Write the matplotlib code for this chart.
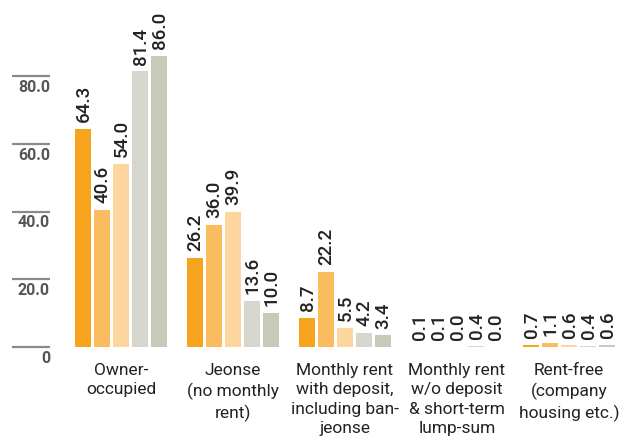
import numpy as np
import matplotlib
matplotlib.use("Agg")
import matplotlib.pyplot as plt

# housing tenure shares (%), five series per category
categories = ["Owner-\noccupied", "Jeonse\n(no monthly\nrent)",
              "Monthly rent\nwith deposit,\nincluding ban-\njeonse",
              "Monthly rent\nw/o deposit\n& short-term\nlump-sum",
              "Rent-free\n(company\nhousing etc.)"]
s1 = [64.3, 26.2, 8.7, 0.1, 0.7]
s2 = [40.6, 36.0, 22.2, 0.1, 1.1]
s3 = [54.0, 39.9, 5.5, 0.0, 0.6]
s4 = [81.4, 13.6, 4.2, 0.4, 0.4]
s5 = [86.0, 10.0, 3.4, 0.0, 0.6]
series = [s1, s2, s3, s4, s5]
colors = ["#F6A31E", "#FBBC5F", "#FDD59E", "#D6D6CE", "#C9C9BA"]
yticks = [0, 20, 40, 60, 80]
ytick_labels = ["0", "20.0", "40.0", "60.0", "80.0"]

font = ["Roboto", "DejaVu Sans"]

W, H = 628, 441
fig = plt.figure(figsize=(W / 100, H / 100), dpi=100)
ax = fig.add_axes([0, 0, 1, 1])

# pixel geometry: group pitch 112px, bar 16px, bar step 19px, 3.385 px per unit
pitch = 112.0
x0 = 121.0
ppu = 67.7 / 20
y0 = 347.0
ax.set_xlim(-x0 / pitch, (W - x0) / pitch)
ax.set_ylim(-(H - y0) / ppu, y0 / ppu)
ax.axis("off")

x = np.arange(len(categories))
step = 19 / pitch
width = 16 / pitch
for j, vals in enumerate(series):
    xs = x + (j - 2) * step
    ax.bar(xs, vals, width=width, color=colors[j], linewidth=0)
    for xi, v in zip(xs, vals):
        ax.annotate(f"{v:.1f}", (xi, v), xytext=(0.5, 5), textcoords="offset points",
                    rotation=90, ha="center", va="bottom", fontsize=13.5,
                    color="#222222", family=font, fontweight="medium")

# y axis tick marks and labels
xl, xr = (12 - x0) / pitch, (50 - x0) / pitch
for t, lab in zip(yticks, ytick_labels):
    ax.plot([xl, xr], [t, t], color="#8a8a8a", lw=1.6, solid_capstyle="butt")
    ax.text(xr, t - 3.3, lab, ha="right", va="center", fontsize=11.5,
            fontweight="bold", color="#555555", family=font)

for xi, c in zip(x, categories):
    ax.text(xi, -4.6, c, ha="center", va="top", fontsize=12.5, color="#222222",
            linespacing=1.38, family=font)

fig.savefig("out.png", dpi=100)
